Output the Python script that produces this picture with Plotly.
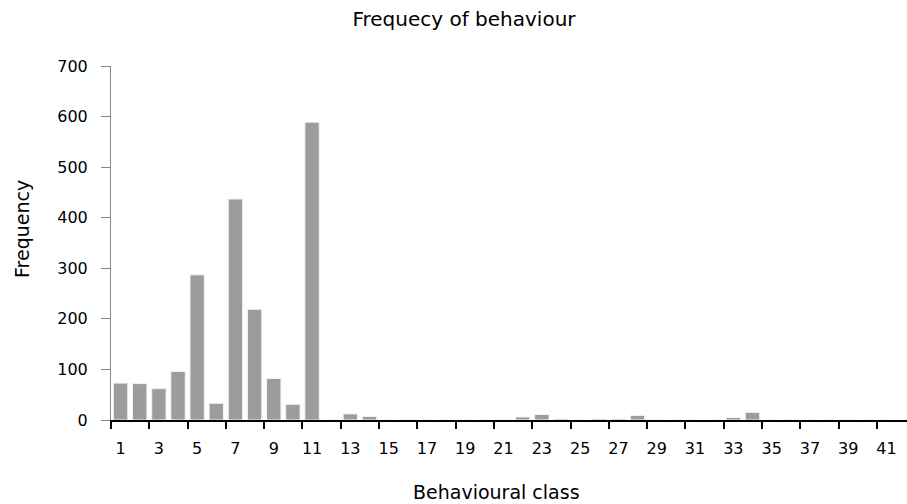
import plotly.graph_objects as go

categories = list(range(1, 43))
frequency = [73, 72, 62, 96, 287, 33, 437, 219, 82, 31,
             589, 0, 12, 7, 0, 0, 0, 0, 0, 0,
             0, 6, 11, 2, 0, 2, 2, 9, 0, 0,
             0, 0, 5, 15, 0, 1, 0, 0, 0, 0,
             0, 0]
tick_labels = [str(c) for c in categories if c % 2 == 1]
tick_positions = [c for c in categories if c % 2 == 1]
boundary_ticks = [c - 0.5 for c in tick_positions]

FONT = "DejaVu Sans"
L, R, T, B = 111, 0, 66, 84
W, H = 907, 504
PW, PH = W - L - R, H - T - B

fig = go.Figure(go.Bar(
    x=categories, y=frequency,
    marker=dict(color="#9c9c9c", line=dict(color="#f2f2f2", width=1)),
    showlegend=False,
))

fig.update_layout(
    width=W, height=H,
    margin=dict(l=L, r=R, t=T, b=B),
    paper_bgcolor="white", plot_bgcolor="white",
    bargap=0.25,
    font=dict(family=FONT, size=16, color="#000000"),
    title=dict(text="Frequecy of behaviour", x=464 / W, xref="container", y=0.962,
               yref="container", yanchor="middle", xanchor="center",
               font=dict(family=FONT, size=20, color="#000000")),
    xaxis=dict(
        range=[0.5, 42.07], automargin=False,
        tickmode="array", tickvals=tick_positions, ticktext=tick_labels,
        ticks="", showgrid=False, zeroline=False,
        showline=True, linecolor="#000000", linewidth=1.5,
        ticklabelstandoff=13,
        tickfont=dict(family=FONT, size=16),
        minor=dict(tickmode="array", tickvals=boundary_ticks, ticks="outside",
                   ticklen=7, tickwidth=1.5, tickcolor="#000000", showgrid=False),
    ),
    yaxis=dict(
        range=[0, 700], automargin=False,
        tickmode="array", tickvals=list(range(0, 701, 100)),
        ticks="outside", ticklen=9, tickcolor="#868686", tickwidth=1,
        showgrid=False, zeroline=False,
        showline=True, linecolor="#868686", linewidth=1,
        ticklabelstandoff=10,
        tickfont=dict(family=FONT, size=16),
    ),
    annotations=[
        dict(text="Behavioural class", xref="paper", yref="paper",
             x=(496.5 - L) / PW, y=(T + PH - 492) / PH, xanchor="center", yanchor="middle",
             showarrow=False, font=dict(family=FONT, size=19, color="#000000")),
        dict(text="Frequency", xref="paper", yref="paper", textangle=-90,
             x=(22 - L) / PW, y=(T + PH - 229) / PH, xanchor="center", yanchor="middle",
             showarrow=False, font=dict(family=FONT, size=19, color="#000000")),
    ],
)

fig.write_html("out.html", config={"displayModeBar": False},
               post_script="document.body.style.margin='0';document.body.style.overflow='hidden';")
